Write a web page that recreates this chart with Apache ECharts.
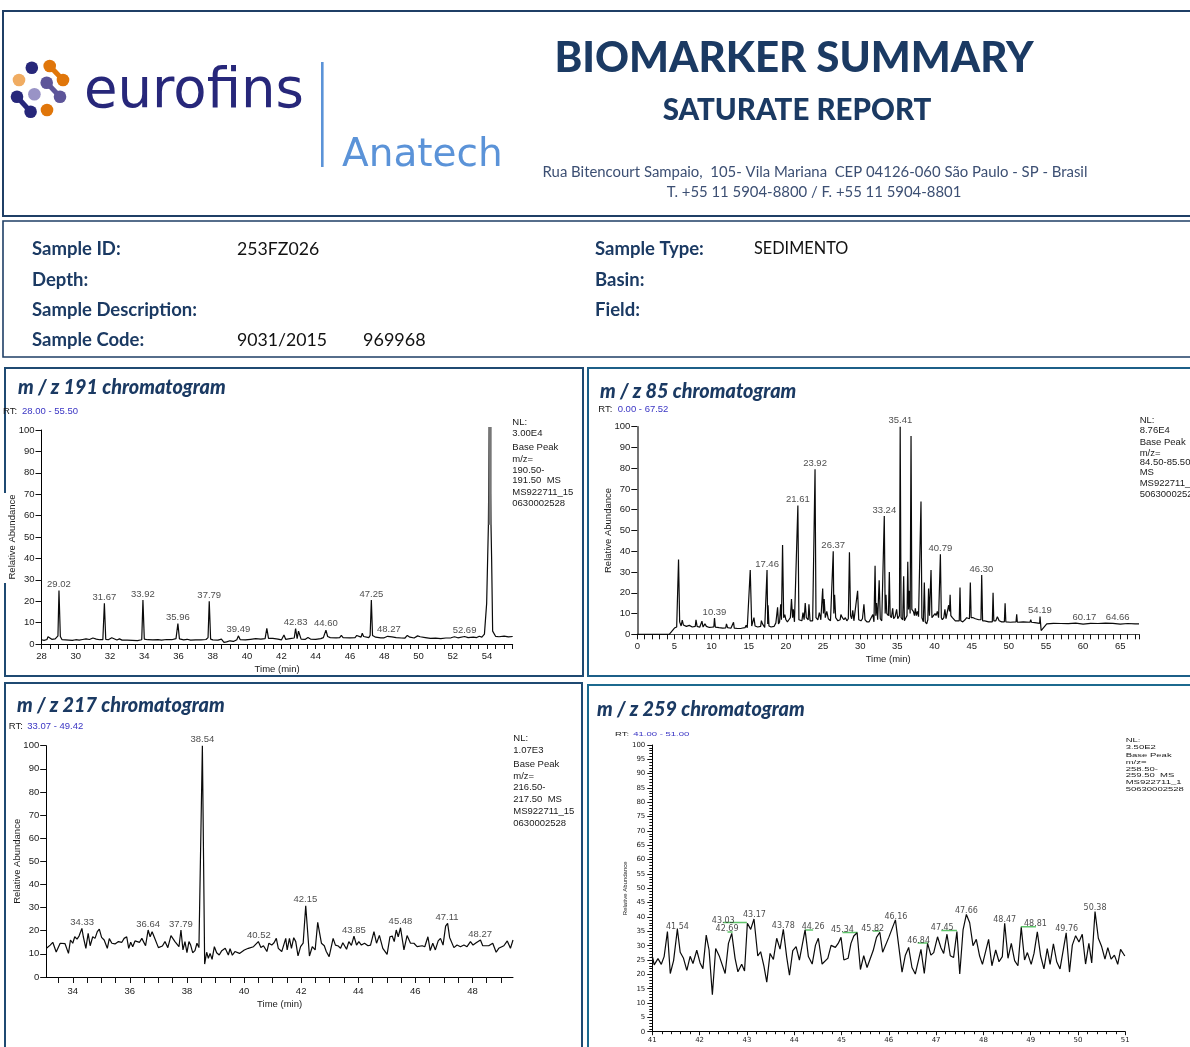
<!DOCTYPE html>
<html><head><meta charset="utf-8">
<style>html,body{margin:0;padding:0;background:#fff;overflow:hidden}#c{width:1190px;height:1047px}</style>
<script src="https://cdn.jsdelivr.net/npm/echarts@6/dist/echarts.min.js"></script>
</head><body><div id="c"></div>
<script>
// ---------- data ----------
const trace191 = [[28,2],[28.15,1.7],[28.25,2.2],[28.32,2.1],[28.38,3.4],[28.45,2.6],[28.6,2.2],[28.8,2.4],[28.88,3],[28.96,3.8],[29.02,25],[29.1,3.5],[29.2,2],[29.4,1.9],[29.6,1.8],[29.8,1.7],[30,2],[30.2,1.8],[30.4,2.1],[30.6,2.4],[30.8,2.1],[31,2.8],[31.2,2.3],[31.4,2],[31.58,2],[31.67,19],[31.75,2.2],[31.9,2],[32.1,2.9],[32.2,2.1],[32.4,1.9],[32.55,2.4],[32.7,1.8],[33,1.8],[33.3,1.7],[33.6,1.6],[33.85,2],[33.92,20.5],[34,2.3],[34.2,2],[34.5,1.9],[34.8,2],[35,1.8],[35.3,2.1],[35.6,2],[35.85,2.5],[35.96,9.5],[36.05,2.4],[36.3,1.9],[36.5,2.2],[36.7,1.8],[37,1.9],[37.3,1.9],[37.6,2.1],[37.72,3],[37.79,20],[37.87,2.3],[38,1.9],[38.3,1.8],[38.5,2.3],[38.55,2.6],[38.65,0.8],[38.8,1],[39,1.5],[39.2,1.2],[39.4,2],[39.49,3.8],[39.6,2],[39.9,1.9],[40.2,2.2],[40.5,2.5],[40.8,2.3],[41.05,2.5],[41.15,7.3],[41.25,2.6],[41.5,2.6],[41.8,2.3],[42,1.9],[42.15,4.2],[42.25,2.2],[42.5,2.5],[42.75,2.8],[42.83,7.2],[42.92,2.5],[43,6],[43.07,6],[43.15,2.3],[43.4,2.2],[43.55,3],[43.7,2.3],[44,2.2],[44.3,2.5],[44.45,3],[44.6,6.5],[44.7,3.5],[44.85,3],[45.2,2.9],[45.4,3],[45.5,4],[45.6,3],[46,2.9],[46.3,3],[46.4,4],[46.5,3.2],[46.65,3.2],[46.72,5],[46.8,3.5],[47.1,3],[47.18,4],[47.25,20.5],[47.32,4],[47.5,3.2],[47.8,2.9],[48,2.9],[48.2,3.6],[48.3,4],[48.45,3.3],[48.7,3],[49,2.8],[49.2,2.7],[49.35,4],[49.5,3.2],[49.75,2.8],[49.95,3.8],[50.1,3.4],[50.4,3],[50.7,2.6],[51,2.7],[51.3,2.5],[51.6,2.8],[51.9,2.9],[52.1,3.4],[52.3,2.9],[52.69,3.5],[52.9,3],[53.2,3.2],[53.4,3],[53.55,3.6],[53.7,3.2],[53.85,4.6],[53.93,4],[53.98,19],[54.08,55],[54.13,101.4],[54.23,101.4],[54.27,40],[54.33,6],[54.5,3.6],[54.7,3.4],[55,3.7],[55.25,3.3],[55.5,3.5]];
const apexBand191 = [[54.18,55.7],[54.18,101.4]];
const peaks191 = [[29.02,25.2,'29.02'],[31.67,19.2,'31.67'],[33.92,20.5,'33.92'],[35.96,9.5,'35.96'],[37.79,20,'37.79'],[39.49,4,'39.49'],[42.83,7.4,'42.83'],[44.60,6.7,'44.60'],[47.25,20.5,'47.25'],[48.27,4,'48.27'],[52.69,3.6,'52.69']];

const trace85 = [[0,0],[4.3,0],[4.5,0.8],[5,3],[5.3,3.5],[5.45,4],[5.55,36],[5.7,6],[5.9,4],[6.05,6.8],[6.2,4.5],[6.6,3.8],[7,4.3],[7.4,3.5],[7.8,3.8],[7.9,7],[8.05,3.8],[8.4,3.4],[8.7,6.3],[8.85,3.5],[9.1,5],[9.3,3.8],[9.5,4.5],[9.7,3.3],[10,3.4],[10.3,3.6],[10.39,7.8],[10.5,3.5],[11,3.2],[11.5,3],[11.9,3.1],[12,5],[12.15,3.2],[12.4,4],[12.6,2.9],[12.85,3],[12.95,5.8],[13.05,3],[13.5,2.8],[14,2.9],[14.2,3.8],[14.5,3.2],[14.65,4.4],[14.8,3.2],[15,3.5],[15.2,31],[15.4,4],[15.55,3.5],[15.7,8],[15.85,4],[16.2,3.5],[16.6,3.8],[16.7,6.6],[16.85,5],[17,5.6],[17.15,3.3],[17.38,4],[17.46,31],[17.55,5],[17.6,14],[17.72,4],[18,3.5],[18.4,3.8],[18.65,5.5],[18.75,5.5],[18.88,13],[19,5],[19.15,6],[19.3,14.5],[19.4,7],[19.55,43],[19.7,8],[19.85,9.5],[20,7],[20.2,6],[20.4,7],[20.6,8],[20.75,17],[20.9,8],[21,12],[21.15,6],[21.4,6.5],[21.61,62],[21.75,7],[22,6.5],[22.15,6.5],[22.3,10.5],[22.45,7],[22.6,15],[22.75,8],[23,7],[23.1,14.5],[23.25,6.5],[23.6,6.5],[23.8,7],[23.92,79.5],[24.05,8],[24.3,7],[24.5,10.5],[24.7,7],[24.95,22],[25.05,10],[25.15,17],[25.3,8],[25.5,11],[25.7,7.5],[26,6.5],[26.2,7],[26.37,40],[26.45,10],[26.55,19],[26.7,8],[27,6.5],[27.3,7],[27.4,9.5],[27.6,8],[27.8,7],[28,8],[28.2,6.5],[28.4,7.5],[28.55,39.5],[28.7,9],[28.85,7.5],[29,11.5],[29.15,6.5],[29.4,6.5],[29.65,21],[29.8,7],[30.1,6.5],[30.3,7.5],[30.5,14.5],[30.65,7],[30.9,6],[31.2,6],[31.4,5.5],[31.7,9.5],[31.85,6],[32,33],[32.1,9],[32.2,15],[32.35,7],[32.55,26],[32.7,7.5],[32.9,6.5],[33.12,7],[33.24,57],[33.36,10],[33.47,19],[33.58,10],[33.8,9],[33.92,30],[34.03,9],[34.2,8],[34.37,12.5],[34.5,7.5],[34.7,8.5],[34.9,12],[35.05,7.5],[35.28,9],[35.38,100],[35.5,8],[35.72,7],[35.85,28],[35.95,6.5],[36.15,8],[36.3,9],[36.4,35],[36.5,12],[36.57,21],[36.72,10],[36.84,95.5],[36.95,12],[37.15,11],[37.3,9],[37.42,12.5],[37.55,9],[37.7,11],[37.85,8.5],[38.08,9],[38.18,64],[38.3,8],[38.5,6],[38.63,25],[38.75,6],[38.95,5],[39.1,7],[39.2,22],[39.32,9],[39.45,9],[39.53,31],[39.65,8],[39.85,7.5],[40.07,10],[40.2,9],[40.38,11],[40.55,8],[40.7,8],[40.79,38.5],[40.92,8],[41.05,7],[41.25,8],[41.4,12],[41.55,7.5],[41.75,8],[41.9,14],[42.02,11],[42.1,19],[42.2,9],[42.4,8],[42.55,8.5],[42.8,6.5],[43,6],[43.33,6.5],[43.43,22.5],[43.53,6.5],[43.8,6],[44.1,7],[44.33,8],[44.7,7.5],[44.82,25],[44.93,8],[45.2,8],[45.5,7.5],[45.68,8],[45.95,7],[46.25,7],[46.35,28.5],[46.47,6.5],[46.75,6.5],[47,7],[47.3,6],[47.5,5.8],[47.78,6],[47.88,20],[47.98,6.5],[48.25,6.5],[48.46,8.5],[48.7,6.5],[49.04,6],[49.4,6],[49.5,15],[49.6,6],[50.2,5.8],[50.97,6],[51.06,9.6],[51.15,5.8],[51.95,6],[52.85,5.8],[52.95,7],[53.05,5.8],[53.5,5.6],[54.15,5.3],[54.2,8.5],[54.35,1.8],[55.1,5],[56,5.3],[57,5.2],[58,5.1],[59,5.4],[60,4.9],[61,5.3],[62,5.2],[63,5.4],[64,5.3],[65,4.9],[66,5.2],[67,5],[67.52,5]];
const peaks85 = [[10.39,7.8,'10.39'],[17.46,31,'17.46'],[21.61,62,'21.61'],[23.92,79.5,'23.92'],[26.37,40,'26.37'],[33.24,57,'33.24'],[35.41,100,'35.41'],[40.79,38.5,'40.79'],[46.30,28.5,'46.30'],[54.19,8.5,'54.19'],[60.17,5.3,'60.17'],[64.66,5.3,'64.66']];

const trace217 = [[33.08,12.4],[33.21,13.8],[33.3,15],[33.42,10.8],[33.56,14.6],[33.73,14.4],[33.85,10.2],[33.92,16],[34,14.6],[34.07,17.4],[34.15,16.4],[34.22,17.7],[34.32,21],[34.37,17.4],[34.46,12.4],[34.54,18.9],[34.61,13.5],[34.7,17.4],[34.78,16.7],[34.86,19.6],[34.93,20.7],[35.01,17.1],[35.1,16],[35.21,12.4],[35.28,16.6],[35.37,14.6],[35.48,14.3],[35.6,15.3],[35.72,15],[35.8,16.7],[35.89,17.4],[35.96,12.4],[36.03,15],[36.1,13.1],[36.18,15.6],[36.34,15],[36.42,16.7],[36.55,13.5],[36.64,20.3],[36.71,17.4],[36.78,19.6],[36.85,17.4],[36.92,17.1],[37,12.7],[37.14,13.4],[37.23,15.3],[37.33,12.7],[37.44,17.9],[37.58,15.3],[37.72,13.1],[37.79,20.3],[37.86,11.7],[37.93,15.3],[38,10.5],[38.07,15.3],[38.13,13.8],[38.2,10.5],[38.28,11.4],[38.35,14.6],[38.42,12.7],[38.48,13.1],[38.54,100],[38.62,5.6],[38.69,10.7],[38.75,8.1],[38.81,10.2],[38.88,7.6],[38.96,13.1],[39.04,10.5],[39.13,9.5],[39.22,11.4],[39.34,12.4],[39.45,9.5],[39.51,12.2],[39.59,9.4],[39.68,11],[39.84,10.2],[40.01,11.7],[40.15,12.4],[40.33,13.1],[40.5,15.3],[40.59,12.8],[40.68,13.5],[40.8,11],[40.87,14.6],[40.97,13.8],[41.05,14.8],[41.13,16.7],[41.2,12.4],[41.32,11],[41.46,16.7],[41.51,11.7],[41.59,16.7],[41.66,12.4],[41.74,17],[41.81,15.3],[41.89,9.1],[41.98,13.1],[42.07,14.6],[42.16,30.8],[42.29,9.1],[42.39,13.1],[42.49,11.7],[42.58,23.6],[42.71,14.6],[42.81,13.5],[42.88,11],[42.98,8.8],[43.12,16.7],[43.2,13.8],[43.3,13.4],[43.38,12.4],[43.46,14.8],[43.59,12],[43.67,15.3],[43.76,13.7],[43.85,17.7],[43.94,13.8],[44.02,15.3],[44.11,13.8],[44.22,14.6],[44.34,13.5],[44.43,13.8],[44.55,19.6],[44.64,14.6],[44.74,18],[44.86,12.4],[45.01,9.8],[45.11,17.4],[45.19,17.7],[45.26,15.3],[45.33,20.3],[45.4,17.4],[45.48,21.3],[45.6,11.7],[45.71,17.9],[45.83,14.6],[45.95,14.6],[46.06,13.1],[46.24,13.5],[46.33,13.1],[46.44,17.4],[46.52,11.4],[46.61,14.6],[46.7,11.7],[46.8,15.6],[46.88,16.7],[46.97,13.8],[47.06,22],[47.13,23.2],[47.2,17.1],[47.25,16.7],[47.35,12.7],[47.46,13.8],[47.58,13.1],[47.7,13.8],[47.81,13.1],[47.93,15.3],[48.02,13.8],[48.13,14.8],[48.28,16],[48.36,13.5],[48.57,13.5],[48.71,14.6],[48.83,10.7],[48.92,12.4],[49.1,13.5],[49.22,15.6],[49.33,12.4],[49.42,16]];
const peaks217 = [[34.33,21,'34.33'],[36.64,20.3,'36.64'],[37.79,20.3,'37.79'],[38.54,100,'38.54'],[40.52,15.3,'40.52'],[42.15,30.8,'42.15'],[43.85,17.7,'43.85'],[45.48,21.3,'45.48'],[47.11,23.2,'47.11'],[48.27,16,'48.27']];

const trace259 = [[41,26.4],[41.04,23.3],[41.12,25.5],[41.19,23.5],[41.25,26.2],[41.32,34.9],[41.38,20.3],[41.45,24.8],[41.53,35.8],[41.59,27.7],[41.66,25.6],[41.73,21.4],[41.8,26.3],[41.86,23.8],[41.94,28.4],[42.01,24],[42.07,22],[42.14,33.7],[42.2,28.5],[42.27,12.9],[42.34,29],[42.42,26.2],[42.54,20.3],[42.61,30.8],[42.68,34.3],[42.75,25.6],[42.81,20.9],[42.89,23.5],[42.95,21.2],[43.01,37.8],[43.08,35.7],[43.15,39.3],[43.23,26.4],[43.29,27.9],[43.36,22.9],[43.42,17.3],[43.49,27.3],[43.56,25.2],[43.63,32.6],[43.7,28.8],[43.77,35.7],[43.84,26.2],[43.9,19.7],[43.97,28.3],[44.04,29.7],[44.11,25],[44.23,35.5],[44.3,26.2],[44.38,23.6],[44.45,30.2],[44.51,32.6],[44.59,23.6],[44.71,25.6],[44.78,30.1],[44.87,29.4],[44.93,30.8],[44.99,32.9],[45.05,25],[45.14,25.6],[45.2,30.8],[45.26,33.4],[45.33,34.5],[45.4,21.7],[45.47,26.5],[45.54,22.4],[45.67,28.3],[45.74,32.9],[45.81,34.7],[45.87,27.7],[46,32.9],[46.14,39],[46.28,20.8],[46.35,26.7],[46.42,29.4],[46.49,22.4],[46.56,20.1],[46.68,28.7],[46.75,20.3],[46.82,30.8],[46.89,26.7],[46.95,27.6],[47.03,33.1],[47.1,29.4],[47.16,27.3],[47.23,34],[47.3,26.5],[47.37,25.9],[47.44,34.9],[47.5,20.1],[47.57,35.5],[47.64,40.9],[47.71,38],[47.78,30],[47.85,32.2],[47.92,26.4],[47.98,23.5],[48.11,32.2],[48.18,23],[48.26,28.5],[48.33,24.4],[48.4,26.2],[48.45,37.8],[48.52,25.6],[48.59,30.8],[48.66,24.8],[48.73,23],[48.8,36.4],[48.87,25],[48.93,27.6],[49.01,23.5],[49.07,27.3],[49.14,34.8],[49.21,26.4],[49.28,21.9],[49.35,29],[49.41,23.5],[49.48,30.6],[49.55,24.4],[49.62,21.9],[49.75,34.5],[49.82,20.8],[49.88,30.2],[49.95,33.5],[50.02,31.3],[50.09,34],[50.16,23.6],[50.23,30.8],[50.29,24],[50.36,41.9],[50.43,32.6],[50.5,29.7],[50.57,25.3],[50.63,29.3],[50.7,25.3],[50.77,26.7],[50.84,23.5],[50.9,28.7],[50.99,26.4]];
const peaks259 = [[41.53,36,'41.54'],[42.5,38.1,'43.03'],[42.58,35.2,'42.69'],[43.16,40,'43.17'],[43.77,36.2,'43.78'],[44.4,35.8,'44.26'],[45.02,34.8,'45.34'],[45.66,35.3,'45.82'],[46.15,39.4,'46.16'],[46.63,31,'46.84'],[47.13,35.6,'47.45'],[47.64,41.5,'47.66'],[48.45,38.3,'48.47'],[49.1,37,'48.81'],[49.76,35.1,'49.76'],[50.36,42.5,'50.38']];
const baselines259 = [[42.5,43,38.1],[42.59,42.7,34.8],[44.23,44.4,35.5],[45.02,45.34,34.6],[45.66,45.81,35.1],[46.61,46.83,30.9],[47.11,47.44,35.3],[48.79,49.11,36.6]];

const xLabels191 = [28,30,32,34,36,38,40,42,44,46,48,50,52,54];
const xLabels217 = [34,36,38,40,42,44,46,48];

const infoLeft = [['Sample ID:','253FZ026'],['Depth:',''],['Sample Description:',''],['Sample Code:','9031/2015']];
const infoRight = [['Sample Type:','SEDIMENTO'],['Basin:',''],['Field:','']];
const meta191 = ['NL:','3.00E4','Base Peak','m/z=','190.50-','191.50  MS','MS922711_15','0630002528'];
const meta85 = ['NL:','8.76E4','Base Peak','m/z=','84.50-85.50','MS','MS922711_1','50630002528'];
const meta217 = ['NL:','1.07E3','Base Peak','m/z=','216.50-','217.50  MS','MS922711_15','0630002528'];
const meta259 = ['NL:','3.50E2','Base Peak','m/z=','258.50-','259.50  MS','MS922711_1','50630002528'];

// ---------- helpers ----------
const ARIAL = '"Liberation Sans", Arial, sans-serif';
const TITLE = 'Lato, "Open Sans", sans-serif';
const NAVY = '#1b3a63';
const INK = '#1a1a1a';
function txt(text,x,y,size,opt){opt=opt||{};return {type:'text',x:x,y:y,scaleX:opt.sx||1,scaleY:opt.sy||1,z:opt.z||5,silent:true,style:{text:text,x:0,y:0,fill:opt.color||INK,align:opt.align||'left',verticalAlign:'middle',font:(opt.style||'')+' '+(opt.weight||'normal')+' '+size+'px '+(opt.family||ARIAL)}};}
function box(x,y,w,h,color,lw){return {type:'rect',z:1,silent:true,shape:{x:x,y:y,width:w,height:h},style:{fill:'none',stroke:color,lineWidth:lw}};}
function range(a,b,s){const r=[];for(let v=a;v<=b+1e-9;v+=s)r.push(+v.toFixed(3));return r;}
function xAxis(i,min,max,name,o){return {type:'value',gridIndex:i,min:min,max:max,name:name,nameLocation:'middle',nameGap:o.gap,nameTextStyle:{color:INK,fontFamily:o.family||ARIAL,fontSize:o.nameSize||9.5},splitLine:{show:false},
  axisLine:{onZero:false,lineStyle:{color:o.axisColor||'#000',width:1}},axisTick:Object.assign({length:o.tick||5,inside:false,lineStyle:{color:'#111'}},o.ticks?{customValues:o.ticks}:{}),
  minorTick:o.minor?{show:true,splitNumber:o.minor,length:o.minorLen,lineStyle:{color:'#111'}}:{show:false},interval:o.interval,
  axisLabel:Object.assign({margin:o.margin||7,color:INK,fontFamily:o.family||ARIAL,fontSize:o.size||9.5,hideOverlap:false},o.labels?{customValues:o.labels}:{})};}
function yAxis(i,name,o){return {type:'value',gridIndex:i,min:0,max:100,interval:o.interval||10,name:name,nameLocation:'middle',nameGap:o.gap,nameMoveOverlap:false,nameTextStyle:{color:INK,fontFamily:ARIAL,fontSize:o.nameSize||9.5},splitLine:{show:false},
  axisLine:{onZero:false,lineStyle:{color:o.axisColor||'#000',width:o.axisW||1}},axisTick:{length:o.tick||6,lineStyle:{color:'#111'}},
  minorTick:o.minor?{show:true,splitNumber:o.minor,length:3,lineStyle:{color:'#111'}}:{show:false},
  axisLabel:{margin:o.margin||7,color:INK,fontFamily:o.family||ARIAL,fontSize:o.size||9.5}};}
function trace(i,data,color){return {type:'line',xAxisIndex:i,yAxisIndex:i,data:data,showSymbol:false,symbol:'none',sampling:null,animation:false,clip:false,z:3,lineStyle:{color:color||'#0a0a0a',width:1.2},silent:true};}
function peakLabels(i,data,o){o=o||{};return {type:'scatter',xAxisIndex:i,yAxisIndex:i,symbolSize:0,data:data,animation:false,silent:true,z:4,label:{show:true,position:'top',distance:o.dist===undefined?1:o.dist,offset:o.offset||[0,0],color:INK,fontFamily:o.family||ARIAL,fontSize:o.size||9.5,formatter:p=>p.data[2]}};}
function metaBlock(lines,x,ys,size,sy,color){return lines.map((l,k)=>txt(l,x,ys[k],size,{sy:sy,color:color}));}

// ---------- page furniture ----------
const g = [];
g.push(box(3,11,1200,205,'#1f3f66',2));
g.push(box(3,221,1200,136,'#1f3f66',1.6));
g.push(box(5,368,578,308,'#1f4a72',2));
g.push(box(588,368,620,308,'#1c5f88',2));
g.push(box(5,683,577,400,'#1f4a72',2));
g.push(box(588,685,620,400,'#1c6a8f',2));
g.push({type:'rect',z:2,silent:true,shape:{x:3,y:493,width:4,height:90},style:{fill:'#fff'}});
// logo
const dots=[[31.8,67.7,'#27277a'],[19,80,'#f0ac62'],[34.4,94.3,'#9993c6'],[47,110,'#e0760a']];
dots.forEach(d=>g.push({type:'circle',z:2,silent:true,shape:{cx:d[0],cy:d[1],r:6.3},style:{fill:d[2]}}));
const links=[[49.7,66,63,80,'#e0760a'],[46.7,82.7,60,96.7,'#5d5599'],[17,96.7,30.6,111.7,'#27277a']];
links.forEach(l=>{g.push({type:'line',z:2,silent:true,shape:{x1:l[0],y1:l[1],x2:l[2],y2:l[3]},style:{stroke:l[4],lineWidth:5}});
 g.push({type:'circle',z:2,silent:true,shape:{cx:l[0],cy:l[1],r:6.3},style:{fill:l[4]}});g.push({type:'circle',z:2,silent:true,shape:{cx:l[2],cy:l[3],r:6.3},style:{fill:l[4]}});});
g.push(txt('eurofins',84,93,54.5,{color:'#27277a',family:'"DejaVu Sans"'}));
g.push({type:'rect',z:2,silent:true,shape:{x:321,y:62,width:2.6,height:105},style:{fill:'#5b93d8'}});
g.push(txt('Anatech',342,156,39,{color:'#5b93d8',family:'"DejaVu Sans"'}));
g.push(txt('BIOMARKER SUMMARY',794,58,42,{color:NAVY,weight:'900',family:TITLE,align:'center'}));
g.push(txt('SATURATE REPORT',797,110,29.5,{color:NAVY,weight:'900',family:TITLE,align:'center'}));
g.push(txt('Rua Bitencourt Sampaio,  105- Vila Mariana  CEP 04126-060 São Paulo - SP - Brasil',815,172,14.9,{color:'#3c4f73',family:TITLE,align:'center'}));
g.push(txt('T. +55 11 5904-8800 / F. +55 11 5904-8801',814,192,14.9,{color:'#3c4f73',family:TITLE,align:'center'}));
[249,280,310,340].forEach((y,k)=>{g.push(txt(infoLeft[k][0],32,y,18.5,{color:NAVY,weight:'bold',family:TITLE}));if(infoLeft[k][1])g.push(txt(infoLeft[k][1],237,y,17.7,{color:'#111',family:TITLE}));});
g.push(txt('969968',363,340,18,{color:'#111',family:TITLE}));
[249,280,310].forEach((y,k)=>{g.push(txt(infoRight[k][0],595,y,18.5,{color:NAVY,weight:'bold',family:TITLE}));if(infoRight[k][1])g.push(txt(infoRight[k][1],754,y,16.3,{color:'#111',family:TITLE}));});
// chart titles
[['m / z 191 chromatogram',18,387],['m / z 85 chromatogram',600,391],['m / z 217 chromatogram',17,705],['m / z 259 chromatogram',597,709]].forEach(t=>g.push(txt(t[0],t[1],t[2],21.5,{color:NAVY,weight:'900',style:'italic',family:TITLE,sx:.92})));
// RT labels
const BLUE='#3a35c4';
g.push(txt('RT:',3,411.7,9.5),txt('28.00 - 55.50',22,411.7,9.5,{color:BLUE}));
g.push(txt('RT:',598.3,409.7,9.5),txt('0.00 - 67.52',617.7,409.7,9.5,{color:BLUE}));
g.push(txt('RT:',8.7,726.7,9.5),txt('33.07 - 49.42',27.3,726.7,9.5,{color:BLUE}));
g.push(txt('RT:',615,734.7,9.5,{sy:.62}),txt('41.00 - 51.00',633.3,734.7,9.5,{color:BLUE,sy:.62}));
// metadata
g.push(...metaBlock(meta191,512.3,[422.3,433.7,447.7,459,470.3,480.7,492,503],9.5));
g.push(...metaBlock(meta85,1139.7,[420,430,442.7,453.3,462.7,472.7,483.3,494],9.5));
g.push(...metaBlock(meta217,513.3,[738.3,750.7,764.7,776.7,787.3,799,811,823.3],9.5));
g.push(...metaBlock(meta259,1125.7,[740.7,747.7,755.7,762.3,769,775.7,782,789],9.5,.62));

// ---------- option ----------
const DV='"DejaVu Sans"';
const series=[
 trace(0,trace191),
 Object.assign(trace(0,apexBand191,'#777'),{lineStyle:{color:'#777',width:3.2}}),
 peakLabels(0,peaks191),
 trace(1,trace85),peakLabels(1,peaks85),
 trace(2,trace217),peakLabels(2,peaks217),
 ...baselines259.map(b=>Object.assign(trace(3,[[b[0],b[2]],[b[1],b[2]]],'#5ec46a'),{lineStyle:{color:'#5ec46a',width:1.5}})),
 trace(3,trace259),peakLabels(3,peaks259,{family:DV,size:8,dist:0,offset:[0,2]})
];
const option={
 backgroundColor:'#fff',animation:false,
 grid:[{left:41.5,top:430,width:471.2,height:214,outerBoundsMode:'none'},{left:637.3,top:426.7,width:501.7,height:207.6,outerBoundsMode:'none'},{left:46.2,top:745.7,width:466.8,height:231.3,outerBoundsMode:'none'},{left:652.3,top:745,width:473,height:286.7,outerBoundsMode:'none'}],
 xAxis:[
  xAxis(0,28,55.5,'Time (min)',{gap:20,ticks:range(28,55.5,.5),labels:xLabels191}),
  xAxis(1,0,67.52,'Time (min)',{gap:20,ticks:range(0,67,1).concat([67.52]),labels:range(0,65,5),axisColor:'#444'}),
  xAxis(2,33.07,49.42,'Time (min)',{gap:22,tick:6,margin:9,ticks:range(33.5,49,.5),labels:xLabels217}),
  xAxis(3,41,51,'Time (min)',{gap:17,interval:1,tick:3.5,minor:5,minorLen:2.5,margin:5,family:DV,size:7,nameSize:7.5})
 ],
 yAxis:[
  yAxis(0,'Relative Abundance',{gap:24}),
  yAxis(1,'Relative Abundance',{gap:24,axisColor:'#444',axisW:1.5}),
  yAxis(2,'Relative Abundance',{gap:24}),
  yAxis(3,'Relative Abundance',{gap:24,interval:5,minor:5,tick:5,family:DV,size:7,nameSize:6,margin:7})
 ],
 graphic:{elements:g},
 series:series
};
echarts.init(document.getElementById('c'),null,{renderer:'canvas'}).setOption(option);
</script></body></html>
